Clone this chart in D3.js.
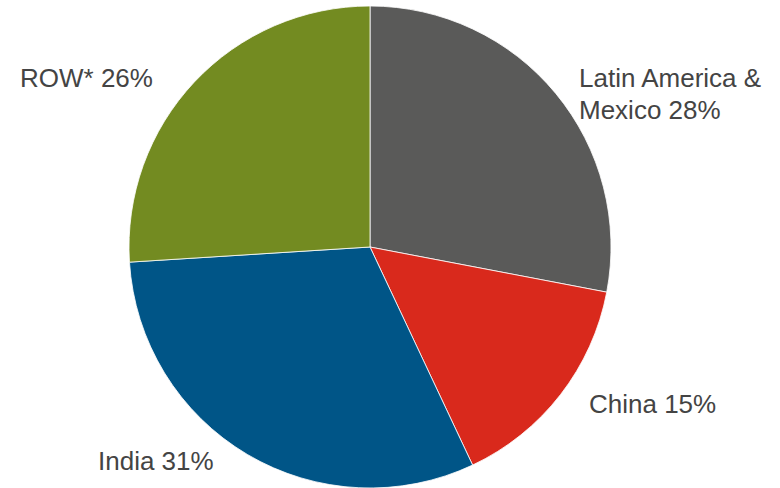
<!DOCTYPE html>
<html>
<head>
<meta charset="utf-8">
<script src="https://cdn.jsdelivr.net/npm/d3@7"></script>
<style>
  html, body { margin: 0; padding: 0; background: #ffffff; }
  svg { display: block; }
</style>
</head>
<body>
<svg id="chart" width="780" height="488"></svg>
<script>
// Share of total by region
const regions = ["Latin America & Mexico", "China", "India", "ROW*"];
const shares = [28, 15, 31, 26];
const colors = ["#5a5a59", "#d9291c", "#005587", "#738b21"];
// Label lines for each slice (multi-line where needed)
const labelLines = [
  ["Latin America &", "Mexico 28%"],
  ["China 15%"],
  ["India 31%"],
  ["ROW* 26%"]
];
// Label anchor positions (left-aligned text, first baseline)
const labelPos = [[579, 87], [589, 413], [98, 470], [20, 87]];

const W = 780, H = 488;
const cx = 370, cy = 247, radius = 241;

const svg = d3.select("#chart");
const g = svg.append("g").attr("transform", `translate(${cx},${cy})`);

const data = regions.map((r, i) => ({ region: r, value: shares[i], i }));

const pie = d3.pie()
  .value(d => d.value)
  .sort(null)
  .startAngle(0)
  .endAngle(2 * Math.PI);

const arc = d3.arc().innerRadius(0).outerRadius(radius);

g.selectAll("path.slice")
  .data(pie(data))
  .join("path")
  .attr("class", "slice")
  .attr("d", arc)
  .attr("fill", d => colors[d.data.i])
  .attr("stroke", "#ffffff")
  .attr("stroke-width", 0.8)
  .attr("stroke-linejoin", "round");

// Category labels
const labels = svg.append("g")
  .attr("font-family", "'Liberation Sans', Arial, sans-serif")
  .attr("font-size", 26)
  .attr("fill", "#444444");

data.forEach((d, i) => {
  const t = labels.append("text")
    .attr("x", labelPos[i][0])
    .attr("y", labelPos[i][1]);
  labelLines[i].forEach((line, j) => {
    t.append("tspan")
      .attr("x", labelPos[i][0])
      .attr("dy", j === 0 ? 0 : 32)
      .text(line);
  });
});
</script>
</body>
</html>
